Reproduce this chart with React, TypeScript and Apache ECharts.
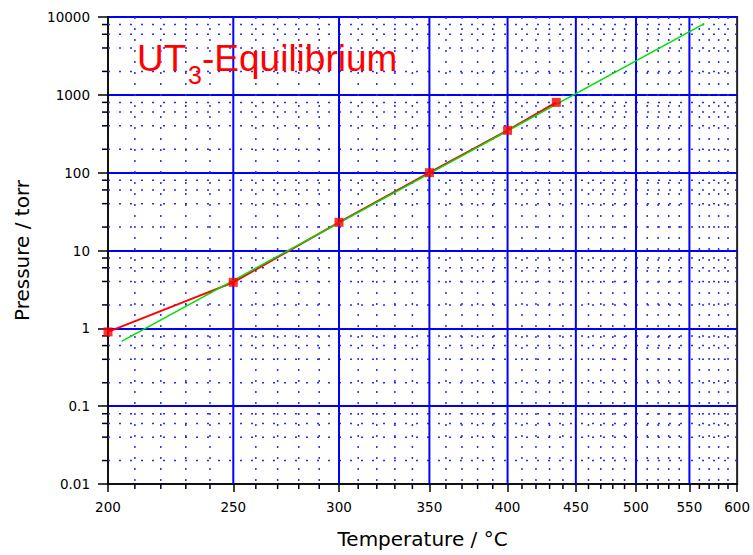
import React, { useEffect, useRef } from 'react';
import * as echarts from 'echarts';

// ---- data ----
const measuredTemps = [200, 250, 300, 350, 400, 435];
const measuredPressures = [0.9, 3.9, 23, 100, 350, 800];

const fitTemps = [205, 565];
const fitPressures = [0.68, 8200];

const xMajorTemps = [200, 250, 300, 350, 400, 450, 500, 550, 600];
const xMinorTemps = [
  210, 220, 230, 240, 260, 270, 280, 290, 310, 320, 330, 340, 360, 370, 380, 390,
  410, 420, 430, 440, 460, 470, 480, 490, 510, 520, 530, 540, 560, 570, 580, 590,
];
const yDecades = [0.01, 0.1, 1, 10, 100, 1000];
const yMinorMultipliers = [2, 4, 6, 8];

const Y_MIN = 0.01;
const Y_MAX = 10000;

// reciprocal-temperature axis transform
const T_OFFSET = 340;
const toX = (t: number) => -10000 / (t + T_OFFSET);
const fromX = (x: number) => -10000 / x - T_OFFSET;
const X_MIN = toX(200);
const X_MAX = toX(600);

const BLUE = '#0000ff';
const DOT_BLUE = '#2a2aff';

export default function App() {
  const ref = useRef<HTMLDivElement>(null);

  useEffect(() => {
    if (!ref.current) return;
    const chart = echarts.init(ref.current, undefined, { renderer: 'svg' });

    const yMinorValues: number[] = [];
    yDecades.forEach((d) => yMinorMultipliers.forEach((m) => yMinorValues.push(Number((d * m).toPrecision(6)))));

    const option: any = {
      animation: false,
      backgroundColor: '#ffffff',
      grid: {
        left: 108,
        top: 17,
        right: 12,
        bottom: 71,
        show: true,
        borderColor: '#222',
        borderWidth: 2,
        backgroundColor: 'transparent',
      },
      xAxis: [
        {
          type: 'value',
          min: X_MIN,
          max: X_MAX,
          name: 'Temperature / °C',
          nameLocation: 'middle',
          nameGap: 45,
          nameTextStyle: { fontFamily: 'DejaVu Sans', fontSize: 20, color: '#000' },
          axisLine: { show: true, onZero: false, lineStyle: { color: '#111', width: 2 } },
          axisTick: {
            show: true,
            length: 8,
            customValues: xMajorTemps.map(toX),
            lineStyle: { color: '#000', width: 1.5 },
          },
          axisLabel: {
            customValues: xMajorTemps.map(toX),
            formatter: (v: number) => String(Math.round(fromX(v))),
            fontFamily: 'DejaVu Sans',
            fontSize: 13.5,
            color: '#000',
            margin: 16,
          },
          splitLine: { show: false },
        },
      ],
      yAxis: [
        {
          type: 'log',
          logBase: 10,
          min: Y_MIN,
          max: Y_MAX,
          name: 'Pressure / torr',
          nameLocation: 'middle',
          nameGap: 76,
          nameTextStyle: { fontFamily: 'DejaVu Sans', fontSize: 20, color: '#000' },
          axisLine: { show: true, onZero: false, lineStyle: { color: '#111', width: 2 } },
          axisTick: { show: true, length: 10, lineStyle: { color: '#000', width: 1.5 } },
          axisLabel: {
            formatter: (v: number) => String(Number(v.toPrecision(6))),
            fontFamily: 'DejaVu Sans',
            fontSize: 13.5,
            color: '#000',
            margin: 18,
          },
          splitLine: { show: true, lineStyle: { color: BLUE, width: 2 } },
          minorTick: { show: false },
        },
      ],
      graphic: [
        {
          type: 'text',
          x: 137,
          y: 58,
          z: 100,
          style: {
            text: 'UT',
            fontFamily: 'Liberation Sans',
            fontSize: 37,
            fill: '#ff0000',
            align: 'left',
            verticalAlign: 'middle',
          },
        },
        {
          type: 'text',
          x: 188,
          y: 75,
          z: 100,
          style: {
            text: '3',
            fontFamily: 'Liberation Sans',
            fontSize: 25,
            fill: '#ff0000',
            align: 'left',
            verticalAlign: 'middle',
          },
        },
        {
          type: 'text',
          x: 202,
          y: 58,
          z: 100,
          style: {
            text: '-Equilibrium',
            fontFamily: 'Liberation Sans',
            fontSize: 37,
            fill: '#ff0000',
            align: 'left',
            verticalAlign: 'middle',
          },
        },
      ],
      series: [
        {
          type: 'custom',
          name: 'xMinorGrid',
          coordinateSystem: 'cartesian2d',
          silent: true,
          clip: false,
          z: 1,
          data: xMinorTemps.map((t) => [toX(t), 1]),
          encode: { x: 0, y: 1 },
          renderItem: (_p: any, api: any) => {
            const x = api.value(0);
            const top = api.coord([x, Y_MAX]);
            const bot = api.coord([x, Y_MIN]);
            return {
              type: 'group',
              children: [
                {
                  type: 'line',
                  shape: { x1: top[0], y1: top[1], x2: bot[0], y2: bot[1] },
                  style: { stroke: DOT_BLUE, lineWidth: 1.5, lineDash: [2, 9] },
                },
                {
                  type: 'line',
                  shape: { x1: bot[0], y1: bot[1], x2: bot[0], y2: bot[1] + 5 },
                  style: { stroke: '#000', lineWidth: 1.5 },
                },
              ],
            };
          },
        },
        {
          type: 'custom',
          name: 'yMinorGrid',
          coordinateSystem: 'cartesian2d',
          silent: true,
          clip: false,
          z: 1,
          data: yMinorValues.map((v) => [X_MIN, v]),
          encode: { x: 0, y: 1 },
          renderItem: (_p: any, api: any) => {
            const y = api.value(1);
            const left = api.coord([X_MIN, y]);
            const right = api.coord([X_MAX, y]);
            return {
              type: 'group',
              children: [
                {
                  type: 'line',
                  shape: { x1: left[0], y1: left[1], x2: right[0], y2: right[1] },
                  style: { stroke: DOT_BLUE, lineWidth: 1.5, lineDash: [2, 9] },
                },
                {
                  type: 'line',
                  shape: { x1: left[0] - 6, y1: left[1], x2: left[0], y2: left[1] },
                  style: { stroke: '#000', lineWidth: 1.5 },
                },
              ],
            };
          },
        },
        {
          type: 'custom',
          name: 'xMajorGrid',
          coordinateSystem: 'cartesian2d',
          silent: true,
          clip: false,
          z: 1,
          data: xMajorTemps.slice(1, -1).map((t) => [toX(t), 1]),
          encode: { x: 0, y: 1 },
          renderItem: (_p: any, api: any) => {
            const x = api.value(0);
            const top = api.coord([x, Y_MAX]);
            const bot = api.coord([x, Y_MIN]);
            return {
              type: 'line',
              shape: { x1: top[0], y1: top[1], x2: bot[0], y2: bot[1] },
              style: { stroke: BLUE, lineWidth: 2 },
            };
          },
        },
        {
          type: 'line',
          name: 'Measured',
          data: measuredTemps.map((t, i) => [toX(t), measuredPressures[i]]),
          symbol: 'none',
          lineStyle: { color: '#ff0000', width: 2 },
          z: 3,
        },
        {
          type: 'line',
          name: 'Fit',
          data: fitTemps.map((t, i) => [toX(t), fitPressures[i]]),
          symbol: 'none',
          lineStyle: { color: '#00e000', width: 1.5 },
          z: 4,
        },
        {
          type: 'scatter',
          name: 'Measured points',
          data: measuredTemps.map((t, i) => [toX(t), measuredPressures[i]]),
          symbol: 'rect',
          symbolSize: 9,
          itemStyle: { color: '#ff0000' },
          z: 5,
        },
      ],
    };

    chart.setOption(option);
    return () => chart.dispose();
  }, []);

  return (
    <div
      ref={ref}
      style={{ position: 'fixed', left: 0, top: 0, width: 753, height: 555, background: '#fff' }}
    />
  );
}
